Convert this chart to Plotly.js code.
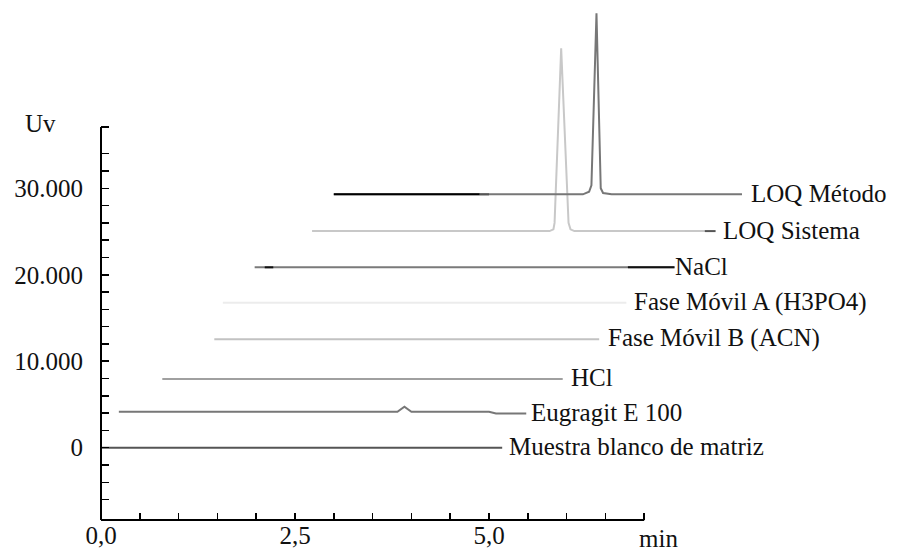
<!DOCTYPE html>
<html><head><meta charset="utf-8">
<script src="https://cdn.plot.ly/plotly-3.0.1.min.js"></script>
<style>html,body{margin:0;padding:0;background:#fff}#chart{width:897px;height:553px}</style>
</head><body><div id="chart"></div>
<script>
// ---- data (time in min, signal in Uv, each chromatogram already offset) ----
var muestraX = [0.00, 5.17];
var muestraY = [0, 0];
var eugragitX = [0.23, 3.82, 3.91, 4.00, 5.00, 5.09, 5.48];
var eugragitY = [4150, 4150, 4750, 4150, 4150, 3950, 3950];
var hclX = [0.79, 5.95];
var hclY = [7950, 7950];
var faseBX = [1.46, 6.42];
var faseBY = [12550, 12550];
var faseAX = [1.57, 6.77];
var faseAY = [16770, 16770];
var naclX = [1.98, 7.39];
var naclY = [20860, 20860];
var naclDark1X = [2.11, 2.22];
var naclDark1Y = [20860, 20860];
var naclDark2X = [6.79, 7.39];
var naclDark2Y = [20860, 20860];
var sistemaX = [2.72, 5.78, 5.83, 5.845, 5.93, 6.025, 6.05, 6.10, 7.78];
var sistemaY = [25050, 25050, 25250, 26000, 46200, 26000, 25250, 25050, 25050];
var sistemaDarkX = [7.78, 7.92];
var sistemaDarkY = [25050, 25050];
var metodoX = [3.00, 6.21, 6.29, 6.32, 6.385, 6.44, 6.47, 6.58, 8.26];
var metodoY = [29300, 29300, 29600, 30350, 50250, 30000, 29450, 29300, 29300];
var metodoDarkX = [3.00, 4.88];
var metodoDarkY = [29300, 29300];
var metodoMidX = [4.88, 5.00];
var metodoMidY = [29300, 29300];

var seriesNames = ['Muestra blanco de matriz', 'Eugragit E 100', 'HCl', 'Fase Móvil B (ACN)',
                   'Fase Móvil A (H3PO4)', 'NaCl', 'LOQ Sistema', 'LOQ Método'];

var xTickVals = [0, 2.5, 5];
var xTickText = ['0,0', '2,5', '5,0'];
var xMinorVals = [0.5, 1, 1.5, 2, 3, 3.5, 4, 4.5, 5.5, 6, 6.5, 7];
var yTickVals = [0, 10000, 20000, 30000];
var yTickText = ['0', '10.000', '20.000', '30.000'];
var yMinorVals = [-6000, -4000, -2000, 2000, 4000, 6000, 8000, 12000, 14000, 16000, 18000,
                  22000, 24000, 26000, 28000, 32000, 34000, 37100];
var xAxisEnd = 7;
var yAxisEnd = 37100;

// ---- styling ----
var FONT = 'Liberation Serif';
var main = [
  {x: muestraX,  y: muestraY,  c: '#555555'},
  {x: eugragitX, y: eugragitY, c: '#777777'},
  {x: hclX,      y: hclY,      c: '#a0a0a0'},
  {x: faseBX,    y: faseBY,    c: '#c2c2c2'},
  {x: faseAX,    y: faseAY,    c: '#ececec'},
  {x: naclX,     y: naclY,     c: '#7a7a7a'},
  {x: sistemaX,  y: sistemaY,  c: '#c8c8c8'},
  {x: metodoX,   y: metodoY,   c: '#777777'}
];
var extra = [
  {x: naclDark1X, y: naclDark1Y, c: '#111111'},
  {x: naclDark2X, y: naclDark2Y, c: '#111111'},
  {x: sistemaDarkX, y: sistemaDarkY, c: '#555555'},
  {x: metodoDarkX, y: metodoDarkY, c: '#000000'},
  {x: metodoMidX, y: metodoMidY, c: '#555555'}
];
var labelEndX = [muestraX, eugragitX, hclX, faseBX, faseAX, naclDark2X, sistemaDarkX, metodoX];
var labelEndY = [muestraY, eugragitY, hclY, faseBY, faseAY, naclDark2Y, sistemaDarkY, metodoY];
var labelShift = [5, 3, 6, 7, 6, -1, 5, 7];

var traces = [];
main.forEach(function (s, i) {
  traces.push({type: 'scatter', mode: 'lines', x: s.x, y: s.y, name: seriesNames[i],
    line: {color: s.c, width: 2}, hoverinfo: 'skip', showlegend: false});
});
extra.forEach(function (s) {
  traces.push({type: 'scatter', mode: 'lines', x: s.x, y: s.y,
    line: {color: s.c, width: 2}, hoverinfo: 'skip', showlegend: false});
});

var W = 897, H = 553, ML = 101, MB = 33, MT = 0, MR = 0;
var pxPerMin = 77.6, pxPerUnit = 0.008647, zeroPx = 447.7;
var plotW = W - ML - MR, plotH = H - MT - MB;
var xRange = [0, plotW / pxPerMin];
var yRange = [-(plotH - zeroPx) / pxPerUnit, zeroPx / pxPerUnit];

var annotations = seriesNames.map(function (n, i) {
  var xs = labelEndX[i], ys = labelEndY[i];
  return {x: xs[xs.length - 1], y: ys[ys.length - 1], xref: 'x', yref: 'y', text: n,
    showarrow: false, xanchor: 'left', yanchor: 'middle', xshift: labelShift[i], yshift: 1,
    font: {family: FONT, size: 25, color: '#111'}};
});
annotations.push({xref: 'paper', yref: 'paper', x: (40 - ML) / plotW, y: (plotH - 123) / plotH,
  text: 'Uv', showarrow: false, xanchor: 'center', yanchor: 'middle',
  font: {family: FONT, size: 25, color: '#111'}});
annotations.push({xref: 'x', yref: 'paper', x: xAxisEnd, y: 0, xshift: 14, yshift: -18,
  text: 'min', showarrow: false, xanchor: 'center', yanchor: 'middle',
  font: {family: FONT, size: 25, color: '#111'}});

var shapes = [
  {type: 'line', xref: 'paper', yref: 'paper', x0: 0, x1: (xAxisEnd - xRange[0]) / (xRange[1] - xRange[0]),
   y0: 0, y1: 0, line: {color: '#000', width: 2}},
  {type: 'line', xref: 'paper', yref: 'paper', x0: 0, x1: 0, y0: 0,
   y1: (yAxisEnd - yRange[0]) / (yRange[1] - yRange[0]), line: {color: '#000', width: 2}}
];

var layout = {
  width: W, height: H,
  margin: {l: ML, r: MR, t: MT, b: MB, pad: 0},
  paper_bgcolor: '#fff', plot_bgcolor: 'rgba(0,0,0,0)',
  showlegend: false,
  font: {family: FONT, size: 25, color: '#111'},
  xaxis: {range: xRange, showgrid: false, zeroline: false, showline: false,
    tickmode: 'array', tickvals: xTickVals, ticktext: xTickText,
    ticks: 'inside', ticklen: 7, tickwidth: 1.5, tickcolor: '#000',
    ticklabelstandoff: -2,
    minor: {tickmode: 'array', tickvals: xMinorVals, ticks: 'inside', ticklen: 7, tickwidth: 1.5, tickcolor: '#000', showgrid: false},
    tickfont: {family: FONT, size: 25, color: '#111'}, fixedrange: true},
  yaxis: {range: yRange, showgrid: false, zeroline: false, showline: false,
    tickmode: 'array', tickvals: yTickVals, ticktext: yTickText,
    ticks: 'inside', ticklen: 8, tickwidth: 1.5, tickcolor: '#000',
    ticklabelstandoff: 17,
    minor: {tickmode: 'array', tickvals: yMinorVals, ticks: 'inside', ticklen: 8, tickwidth: 1.5, tickcolor: '#000', showgrid: false},
    tickfont: {family: FONT, size: 25, color: '#111'}, fixedrange: true},
  annotations: annotations,
  shapes: shapes
};

Plotly.newPlot('chart', traces, layout, {displayModeBar: false, staticPlot: true});
</script>
</body></html>
